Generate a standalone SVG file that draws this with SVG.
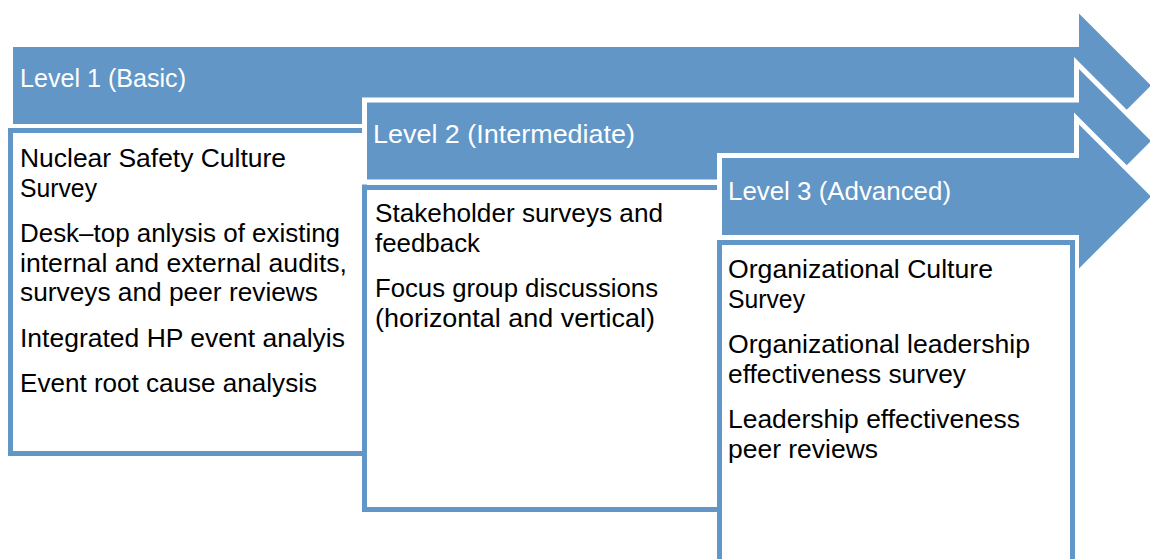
<svg xmlns="http://www.w3.org/2000/svg" width="1150" height="559" viewBox="0 0 1150 559">
<style>
.arrow{fill:#6196C7;stroke:#FFFFFF;stroke-width:5;stroke-linejoin:miter}
.box{fill:#FFFFFF;stroke:#6196C7;stroke-width:5}
.title{font-family:"Liberation Sans",Arial,sans-serif;font-size:25px;fill:#FFFFFF}
.body{font-family:"Liberation Sans",Arial,sans-serif;font-size:25px;fill:#000000}
</style>
<rect x="0" y="0" width="1150" height="559" fill="#FFFFFF"/>
<g id="level1">
<path class="arrow" d="M10.5,44.5 H1076.5 V7.5 L1154.5,85.5 L1076.5,163.5 V126.5 H10.5 Z"/>
<text class="title" x="20" y="87" textLength="166" lengthAdjust="spacingAndGlyphs">Level 1 (Basic)</text>
</g>
<g id="box1">
<rect class="box" x="10.5" y="130.5" width="354" height="323"/>
<text class="body" x="20" y="167" textLength="266" lengthAdjust="spacingAndGlyphs">Nuclear Safety Culture</text>
<text class="body" x="20" y="196.5" textLength="77" lengthAdjust="spacingAndGlyphs">Survey</text>
<text class="body" x="20" y="242" textLength="320" lengthAdjust="spacingAndGlyphs">Desk–top anlysis of existing</text>
<text class="body" x="20" y="271.5" textLength="327" lengthAdjust="spacingAndGlyphs">internal and external audits,</text>
<text class="body" x="20" y="301" textLength="298" lengthAdjust="spacingAndGlyphs">surveys and peer reviews</text>
<text class="body" x="20" y="346.5" textLength="325" lengthAdjust="spacingAndGlyphs">Integrated HP event analyis</text>
<text class="body" x="20" y="392" textLength="297" lengthAdjust="spacingAndGlyphs">Event root cause analysis</text>
</g>
<g id="level2">
<path class="arrow" d="M364.5,100 H1076.5 V63 L1154.5,141 L1076.5,219 V182 H364.5 Z"/>
<text class="title" x="373" y="143" textLength="262" lengthAdjust="spacingAndGlyphs">Level 2 (Intermediate)</text>
</g>
<g id="box2">
<rect class="box" x="364.5" y="187.5" width="355" height="322"/>
<text class="body" x="375" y="222" textLength="288" lengthAdjust="spacingAndGlyphs">Stakeholder surveys and</text>
<text class="body" x="375" y="251.5" textLength="105" lengthAdjust="spacingAndGlyphs">feedback</text>
<text class="body" x="375" y="297" textLength="283" lengthAdjust="spacingAndGlyphs">Focus group discussions</text>
<text class="body" x="375" y="326.5" textLength="280" lengthAdjust="spacingAndGlyphs">(horizontal and vertical)</text>
</g>
<g id="level3">
<path class="arrow" d="M719.5,155.5 H1076.5 V118.5 L1154.5,196.5 L1076.5,274.5 V237.5 H719.5 Z"/>
<text class="title" x="728" y="200" textLength="223" lengthAdjust="spacingAndGlyphs">Level 3 (Advanced)</text>
</g>
<g id="box3">
<rect class="box" x="719.5" y="242.5" width="353" height="323"/>
<text class="body" x="728" y="278" textLength="265" lengthAdjust="spacingAndGlyphs">Organizational Culture</text>
<text class="body" x="728" y="307.5" textLength="77" lengthAdjust="spacingAndGlyphs">Survey</text>
<text class="body" x="728" y="353" textLength="302" lengthAdjust="spacingAndGlyphs">Organizational leadership</text>
<text class="body" x="728" y="382.5" textLength="238" lengthAdjust="spacingAndGlyphs">effectiveness survey</text>
<text class="body" x="728" y="428" textLength="292" lengthAdjust="spacingAndGlyphs">Leadership effectiveness</text>
<text class="body" x="728" y="457.5" textLength="150" lengthAdjust="spacingAndGlyphs">peer reviews</text>
</g>
<g id="connectors"></g>
</svg>
